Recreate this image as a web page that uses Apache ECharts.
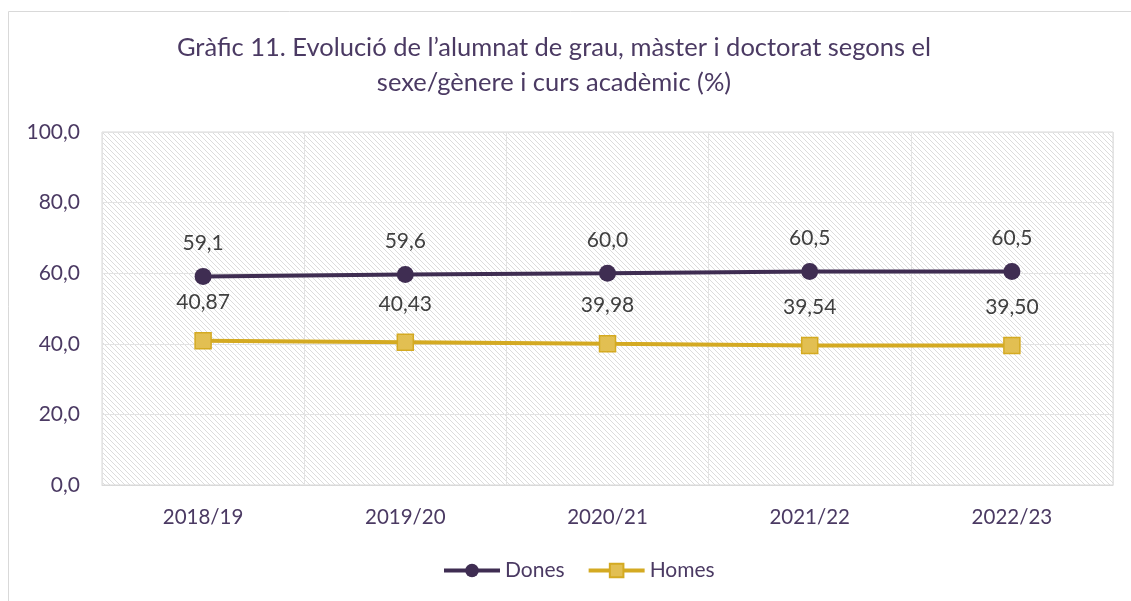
<!DOCTYPE html>
<html>
<head>
<meta charset="utf-8">
<script src="https://cdn.jsdelivr.net/npm/echarts@6/dist/echarts.min.js"></script>
<style>
  html, body { margin: 0; padding: 0; background: #fff; }
  #chart { width: 1131px; height: 601px; }
</style>
</head>
<body>
<div id="chart"></div>
<script>
const courses = ['2018/19', '2019/20', '2020/21', '2021/22', '2022/23']
const dones = [59.1, 59.6, 60.0, 60.5, 60.5]
const homes = [40.87, 40.43, 39.98, 39.54, 39.50]
const yTicks = { min: 0, max: 100, interval: 20 }

// hatched plot background
function hatch () {
  const c = document.createElement('canvas')
  c.width = 5
  c.height = 5
  const ctx = c.getContext('2d')
  ctx.fillStyle = '#ffffff'
  ctx.fillRect(0, 0, 5, 5)
  ctx.strokeStyle = '#dcdcdc'
  ctx.lineWidth = 1
  ctx.beginPath()
  ctx.moveTo(-1, -1); ctx.lineTo(6, 6)
  ctx.moveTo(-1, 4); ctx.lineTo(1, 6)
  ctx.moveTo(4, -1); ctx.lineTo(6, 1)
  ctx.stroke()
  return c
}

const font = 'Lato, "Open Sans", sans-serif'
const purple = '#4b3a63'

const chart = echarts.init(document.getElementById('chart'))
chart.setOption({
  animation: false,
  textStyle: { fontFamily: font },
  title: {
    text: 'Gràfic 11. Evolució de l’alumnat de grau, màster i doctorat segons el\nsexe/gènere i curs acadèmic (%)',
    left: 549,
    top: 25,
    textAlign: 'center',
    textStyle: { fontFamily: font, fontSize: 25.5, fontWeight: 'normal', color: purple, lineHeight: 35, align: 'right' }
  },
  graphic: [{
    type: 'rect',
    shape: { x: 8.5, y: 11.5, width: 1140, height: 620 },
    style: { fill: 'none', stroke: '#d9d9d9', lineWidth: 1 },
    silent: true
  }],
  grid: {
    left: 102, right: 18, top: 132, bottom: 116,
    show: true,
    backgroundColor: { image: hatch(), repeat: 'repeat' },
    borderColor: '#d9d9d9',
    borderWidth: 1
  },
  legend: {
    bottom: 15,
    left: 437,
    itemWidth: 56,
    itemHeight: 17,
    itemGap: 22,
    textStyle: { fontFamily: font, fontSize: 21, color: purple },
    lineStyle: { width: 4 },
    data: ['Dones', 'Homes']
  },
  xAxis: {
    type: 'category',
    data: courses,
    boundaryGap: true,
    axisLine: { show: true, lineStyle: { color: '#d9d9d9' } },
    axisTick: { show: false },
    splitLine: { show: true, lineStyle: { color: '#e3e3e3', width: 1 } },
    axisLabel: { fontFamily: font, fontSize: 20.5, color: purple, margin: 22 }
  },
  yAxis: {
    type: 'value',
    min: yTicks.min,
    max: yTicks.max,
    interval: yTicks.interval,
    axisLine: { show: false },
    axisTick: { show: false },
    splitLine: { lineStyle: { color: '#e3e3e3', width: 1 } },
    axisLabel: {
      fontFamily: font, fontSize: 21, color: purple, margin: 22,
      formatter: v => v.toFixed(1).replace('.', ',')
    }
  },
  series: [{
    name: 'Dones',
    type: 'line',
    data: dones,
    symbol: 'circle',
    symbolSize: 17,
    lineStyle: { color: '#3f2d52', width: 4 },
    itemStyle: { color: '#3f2d52' },
    label: {
      show: true, position: 'top', distance: 14,
      fontFamily: font, fontSize: 21, color: '#404040',
      formatter: p => p.value.toFixed(1).replace('.', ',')
    }
  }, {
    name: 'Homes',
    type: 'line',
    data: homes,
    symbol: 'rect',
    symbolSize: 16,
    lineStyle: { color: '#d4aa22', width: 4 },
    itemStyle: { color: '#e2bf52', borderColor: '#d4aa22', borderWidth: 1.5 },
    label: {
      show: true, position: 'top', distance: 19,
      fontFamily: font, fontSize: 21, color: '#404040',
      formatter: p => p.value.toFixed(2).replace('.', ',')
    }
  }]
})
</script>
</body>
</html>
